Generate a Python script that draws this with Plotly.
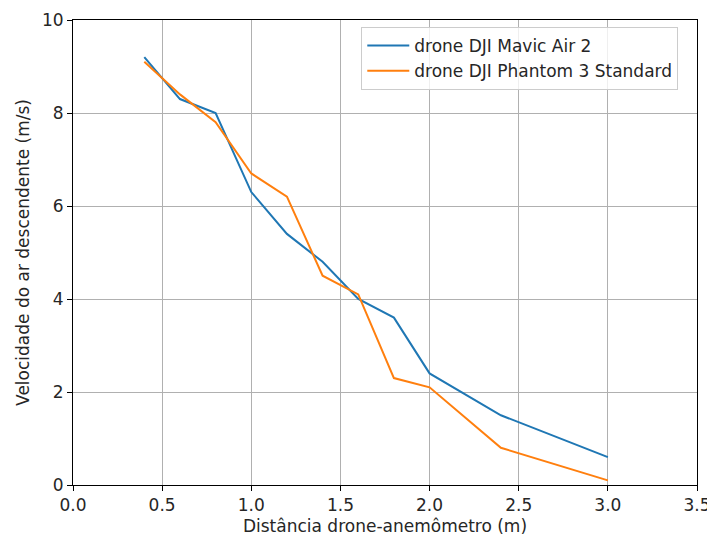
import plotly.graph_objects as go

distancia = [0.4, 0.6, 0.8, 1.0, 1.2, 1.4, 1.6, 1.8, 2.0, 2.4, 3.0]
mavic_air2 = [9.2, 8.3, 8.0, 6.3, 5.4, 4.8, 4.0, 3.6, 2.4, 1.5, 0.6]
phantom3 = [9.1, 8.4, 7.8, 6.7, 6.2, 4.5, 4.1, 2.3, 2.1, 0.8, 0.1]
x_ticks = [0.0, 0.5, 1.0, 1.5, 2.0, 2.5, 3.0, 3.5]
y_ticks = [0, 2, 4, 6, 8, 10]

FS = 17
FONT = "DejaVu Sans"
TXT = "#262626"

fig = go.Figure()
fig.add_trace(go.Scatter(x=distancia, y=mavic_air2, mode="lines",
                         name="drone DJI Mavic Air 2",
                         line=dict(color="#1f77b4", width=2)))
fig.add_trace(go.Scatter(x=distancia, y=phantom3, mode="lines",
                         name="drone DJI Phantom 3 Standard",
                         line=dict(color="#ff7f0e", width=2)))

axis_common = dict(showline=True, linecolor="black", linewidth=1, mirror=True,
                   ticks="outside", ticklen=5, tickwidth=1, tickcolor="black",
                   showgrid=True, gridcolor="#b0b0b0", gridwidth=1, zeroline=False,
                   automargin=False, ticklabeloverflow="allow",
                   tickfont=dict(family=FONT, size=FS, color=TXT))

fig.update_xaxes(range=[0, 3.5], tickvals=x_ticks,
                 ticktext=[f"{v:.1f}" for v in x_ticks],
                 title=dict(text="Distância drone-anemômetro (m)",
                            font=dict(family=FONT, size=FS, color=TXT),
                            standoff=6),
                 **axis_common)
fig.update_yaxes(range=[0, 10], tickvals=y_ticks,
                 ticktext=[str(v) for v in y_ticks],
                 title=dict(text="Velocidade do ar descendente (m/s)",
                            font=dict(family=FONT, size=FS, color=TXT),
                            standoff=8),
                 **axis_common)

fig.update_layout(
    width=707, height=536,
    margin=dict(l=73, r=10, t=20, b=51),
    paper_bgcolor="white", plot_bgcolor="white",
    font=dict(family=FONT, size=FS, color=TXT),
    legend=dict(x=0.462, y=0.985, xanchor="left", yanchor="top",
                bgcolor="rgba(255,255,255,0.8)", bordercolor="#cccccc", borderwidth=1,
                font=dict(family=FONT, size=FS, color=TXT),
                itemwidth=42, tracegroupgap=0),
    showlegend=True,
)

fig.write_html("out.html",
               config={"displayModeBar": False},
               post_script="document.body.style.margin='0';document.body.style.overflow='hidden';")
